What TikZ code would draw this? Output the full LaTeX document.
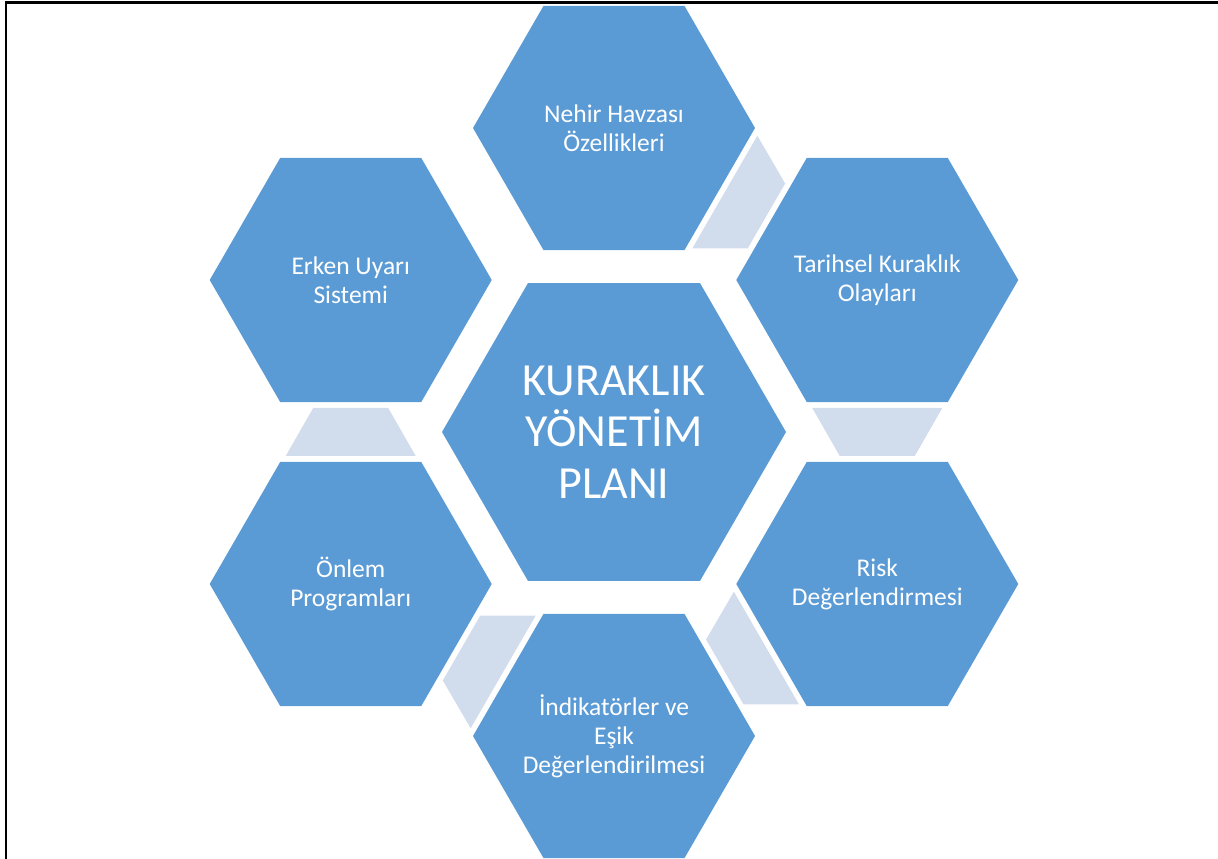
\documentclass[tikz,border=0pt]{standalone}
\usepackage{fontspec}
\setmainfont{Carlito}
\usetikzlibrary{shapes.geometric,calc}
\definecolor{hexblue}{RGB}{91,155,213}
\definecolor{linkblue}{RGB}{209,220,237}

\begin{document}
\begin{tikzpicture}[x=1pt,y=1pt,
    hexbox/.style={regular polygon,regular polygon sides=6,minimum size=282pt,
        inner sep=-25pt,outer sep=0pt,fill=hexblue,text=white,align=center,
        font=\fontsize{25.5}{29}\selectfont},
    bighex/.style={hexbox,minimum size=344pt,font=\fontsize{46}{51.5}\selectfont},
    link/.style={fill=linkblue}]
    \useasboundingbox (-614,-427) rectangle (604,432);
    \draw[line width=2.5pt] (-608,-430) -- (-608,429.3) -- (606,429.3);

    % centre and the ring around it
    \node[bighex] (plan) at (0,0) {KURAKLIK\\YÖNETİM\\PLANI};
    \node[hexbox] (nehir) at (90:304) {Nehir Havzası\\Özellikleri};
    \node[hexbox] (tarih) at (30:304) {Tarihsel Kuraklık\\Olayları};
    \node[hexbox] (risk) at (-30:304) {Risk\\Değerlendirmesi};
    \node[hexbox] (indik) at (-90:304) {İndikatörler ve\\Eşik\\Değerlendirilmesi};
    \node[hexbox] (onlem) at (210:304) {Önlem\\Programları};
    \node[hexbox] (erken) at (150:304) {Erken Uyarı\\Sistemi};

    % tapered links, wide end at the first node
    \foreach \s/\t in {nehir/tarih,tarih/risk,risk/indik,indik/onlem,onlem/erken}{
        \coordinate (lm) at ($(\s)!0.5!(\t)$);
        \coordinate (lw) at ($(lm)!24pt!(\s)$);
        \coordinate (ln) at ($(lm)!24pt!(\t)$);
        \fill[link] ($(lw)!65pt!90:(\s)$) -- ($(lw)!65pt!-90:(\s)$)
            -- ($(ln)!37.5pt!90:(\t)$) -- ($(ln)!37.5pt!-90:(\t)$) -- cycle;
    }
\end{tikzpicture}
\end{document}
